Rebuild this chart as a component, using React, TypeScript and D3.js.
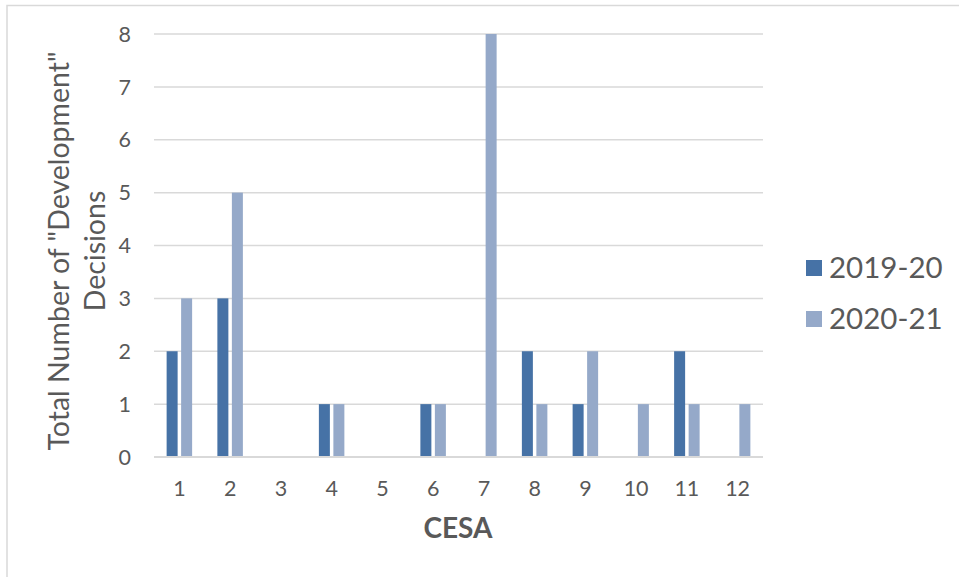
import React from "react";
import * as d3 from "d3";

const categories = ["1", "2", "3", "4", "5", "6", "7", "8", "9", "10", "11", "12"];
const seriesNames = ["2019-20", "2020-21"];
const values2019 = [2, 3, 0, 1, 0, 1, 0, 2, 1, 0, 2, 0];
const values2020 = [3, 5, 0, 1, 0, 1, 8, 1, 2, 1, 1, 1];
const yTicks = [0, 1, 2, 3, 4, 5, 6, 7, 8];
const colors = ["#4672a6", "#95a9c9"];

const W = 959;
const H = 577;
const plot = { left: 154, right: 763, top: 34, bottom: 457 };
const FONT = "Lato, 'Open Sans', sans-serif";
const TEXT = "#595959";

export default function App() {
  const x = d3.scaleBand<string>().domain(categories).range([plot.left, plot.right]).padding(0);
  const y = d3.scaleLinear().domain([0, 8]).range([plot.bottom, plot.top]);
  const barW = 11;
  const gap = 3.5;
  const series = [values2019, values2020];

  return (
    <div style={{ position: "fixed", left: 0, top: 0 }}>
      <style>{`body{margin:0}`}</style>
      <svg width={W} height={H} style={{ display: "block", background: "#fff" }}>
        <rect x={7} y={5.5} width={1000} height={1000} fill="#fff" stroke="#d9d9d9" strokeWidth={1.5} />
        {yTicks.map((t) => (
          <g key={t}>
            {t > 0 && (
              <line x1={plot.left} x2={plot.right} y1={y(t)} y2={y(t)} stroke="#d9d9d9" strokeWidth={1.5} />
            )}
            <text x={131} y={y(t)} dy="0.36em" textAnchor="end" fontFamily={FONT} fontSize={21.5} fill={TEXT}>
              {t}
            </text>
          </g>
        ))}
        {series.map((vals, si) =>
          vals.map((v, i) => {
            const cx = (x(categories[i]) as number) + x.bandwidth() / 2;
            const bx = si === 0 ? cx - gap / 2 - barW : cx + gap / 2;
            return v > 0 ? (
              <rect key={`${si}-${i}`} x={bx} y={y(v)} width={barW} height={y(0) - y(v)} fill={colors[si]} />
            ) : null;
          })
        )}
        <line x1={plot.left} x2={plot.right} y1={y(0)} y2={y(0)} stroke="#d9d9d9" strokeWidth={2} />
        {categories.map((c) => (
          <text
            key={c}
            x={(x(c) as number) + x.bandwidth() / 2}
            y={496}
            textAnchor="middle"
            fontFamily={FONT}
            fontSize={21.5}
            fill={TEXT}
          >
            {c}
          </text>
        ))}
        <text x={458} y={538} textAnchor="middle" fontFamily={FONT} fontSize={28} fontWeight="bold" fill={TEXT}>
          CESA
        </text>
        <g transform={`translate(69, 251) rotate(-90)`}>
          <text x={0} y={0} textAnchor="middle" fontFamily={FONT} fontSize={28.5} fill={TEXT}>
            Total Number of "Development"
          </text>
          <text x={0} y={36} textAnchor="middle" fontFamily={FONT} fontSize={28.5} fill={TEXT}>
            Decisions
          </text>
        </g>
        {seriesNames.map((s, i) => (
          <g key={s} transform={`translate(806, ${260 + i * 51})`}>
            <rect x={0} y={0} width={16} height={16} fill={colors[i]} />
            <text x={23} y={18} fontFamily={FONT} fontSize={29.5} fill={TEXT}>
              {s}
            </text>
          </g>
        ))}
      </svg>
    </div>
  );
}
